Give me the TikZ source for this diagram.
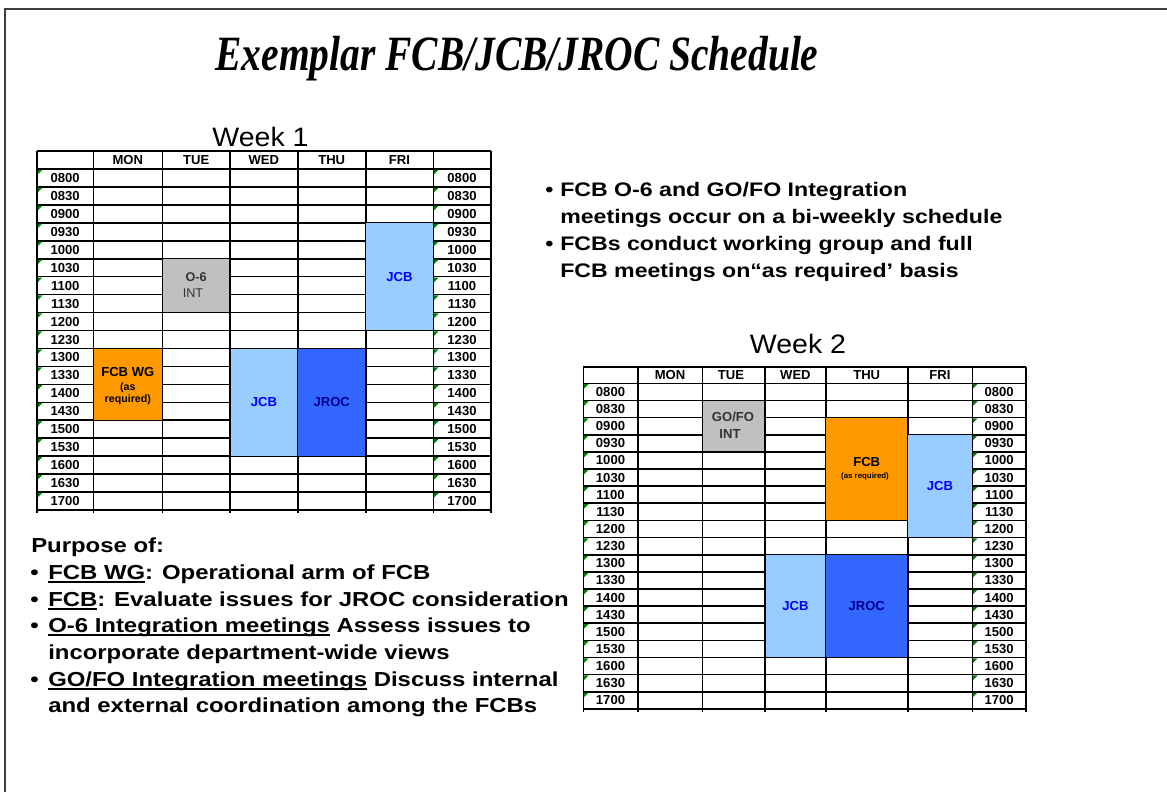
\documentclass[tikz,border=0pt]{standalone}
\usepackage{fontspec}
\setmainfont{Liberation Sans}
\newfontfamily\bodyfont[FakeStretch=1.18]{Liberation Sans}
\newfontfamily\weekfont[FakeStretch=1.07]{Liberation Sans}
\newfontfamily\titlefont[FakeStretch=0.8]{Liberation Serif}

\definecolor{jcbfill}{HTML}{99CCFF}
\definecolor{jrocfill}{HTML}{3366FF}
\definecolor{fcbfill}{HTML}{FF9900}
\definecolor{intfill}{HTML}{C0C0C0}
\definecolor{jcbtext}{HTML}{0000FF}
\definecolor{jroctext}{HTML}{000090}
\definecolor{inttext}{HTML}{333333}
\definecolor{notegreen}{HTML}{008000}
\definecolor{framegray}{HTML}{404040}

% underline with a heavier rule
\newcommand\uln[1]{\setbox0\hbox{#1}\rlap{\rule[-2.8pt]{\wd0}{1.4pt}}\box0\relax}

\tikzset{
  every node/.style={inner sep=0pt},
  gridline/.style={line width=1.2pt},
  cellfont/.style={font=\bfseries\fontsize{9.8}{11}\selectfont},
  meeting/.style={draw=black, line width=0.9pt},
  note/.style={fill=notegreen},
  weeklabel/.style={anchor=base, font=\weekfont\fontsize{20}{24}\selectfont},
  lefttext/.style={anchor=base west, font=\bodyfont\bfseries\fontsize{15.2}{18}\selectfont},
  righttext/.style={anchor=base west, font=\bodyfont\bfseries\fontsize{14.7}{18}\selectfont},
}

\begin{document}
\begin{tikzpicture}[x=0.75pt,y=-0.75pt]
\useasboundingbox (0,0) rectangle (1167,792);

% slide frame
\draw[framegray, line width=1.5pt] (5,792) -- (5,9) -- (1167,9);

\node[anchor=base, font=\titlefont\bfseries\itshape\fontsize{37}{40}\selectfont] (title) at (517,70) {Exemplar FCB/JCB/JROC Schedule};

% ---------------- Week 1 ----------------
\node[weeklabel] (weekone) at (260.5,146.7) {Week 1};
\foreach \i in {0,...,20}
  \draw[gridline] (37,{151+\i*17.95}) -- (490.7,{151+\i*17.95});
\foreach \x in {37,93.3,162.3,230,297.7,365.7,433.3,490.7}
  \draw[gridline] (\x,151) -- (\x,513);
\foreach \d/\x [count=\c] in {MON/127.8,TUE/196.2,WED/263.9,THU/331.7,FRI/399.5}
  \node[cellfont] (w1day\c) at (\x,160) {\d};
\foreach \t [count=\r] in {0800,0830,0900,0930,1000,1030,1100,1130,1200,1230,1300,1330,1400,1430,1500,1530,1600,1630,1700}
{
  \pgfmathsetmacro\yt{169+(\r-1)*17.95}
  \node[cellfont] (w1l\r) at (65.2,{\yt+9}) {\t};
  \node[cellfont] (w1r\r) at (462,{\yt+9}) {\t};
  \fill[note] (37.8,{\yt+0.8}) -- ++(4.5,0) -- ++(-4.5,4.5) -- cycle;
  \fill[note] (434.1,{\yt+0.8}) -- ++(4.5,0) -- ++(-4.5,4.5) -- cycle;
}

\draw[meeting, fill=intfill] (162.3,258.75) rectangle (230,312.6);
\node[font=\bfseries\fontsize{9.5}{11}\selectfont, text=inttext] (w1int) at (196.2,276.7) {O-6};
\node[font=\fontsize{9.5}{11}\selectfont, text=inttext] (w1intb) at (193,293) {INT};

\draw[meeting, fill=jcbfill] (365.7,222.85) rectangle (433.3,330.55);
\node[cellfont, text=jcbtext] (w1jcbfri) at (399.5,276.7) {JCB};

\draw[meeting, fill=fcbfill] (93.3,348.5) rectangle (162.3,420.3);
\node[cellfont] (w1fcbwg) at (127.8,371.7) {FCB WG};
\node[font=\bfseries\fontsize{8}{9}\selectfont] (w1fcbwgb) at (127.8,387.7) {(as};
\node[font=\bfseries\fontsize{8}{9}\selectfont] (w1fcbwgc) at (127.8,400) {required)};

\draw[meeting, fill=jcbfill] (230,348.5) rectangle (297.7,456.1);
\node[cellfont, text=jcbtext] (w1jcbwed) at (263.9,402.3) {JCB};
\draw[meeting, fill=jrocfill] (297.7,348.5) rectangle (365.7,456.1);
\node[cellfont, text=jroctext] (w1jroc) at (331.7,402.3) {JROC};

% ---------------- Week 2 ----------------
\node[weeklabel] (weektwo) at (798,353) {Week 2};
\draw[gridline] (583.3,366.7) -- (1026,366.7);
\foreach \i in {0,...,19}
  \draw[gridline] (583.3,{383.3+\i*17.14}) -- (1026,{383.3+\i*17.14});
\foreach \x in {583.3,637.7,702.3,765,825.7,907.7,972.3,1026}
  \draw[gridline] (\x,366.7) -- (\x,712);
\foreach \d/\x [count=\c] in {MON/670,TUE/731,WED/795.4,THU/866.7,FRI/940}
  \node[cellfont] (w2day\c) at (\x,375) {\d};
\foreach \t [count=\r] in {0800,0830,0900,0930,1000,1030,1100,1130,1200,1230,1300,1330,1400,1430,1500,1530,1600,1630,1700}
{
  \pgfmathsetmacro\yt{383.3+(\r-1)*17.14}
  \node[cellfont] (w2l\r) at (610.5,{\yt+8.6}) {\t};
  \node[cellfont] (w2r\r) at (999.2,{\yt+8.6}) {\t};
  \fill[note] (584.1,{\yt+0.8}) -- ++(4.5,0) -- ++(-4.5,4.5) -- cycle;
  \fill[note] (973.1,{\yt+0.8}) -- ++(4.5,0) -- ++(-4.5,4.5) -- cycle;
}

\draw[meeting, fill=intfill] (702.3,400.44) rectangle (765,451.86);
\node[cellfont, text=inttext] (w2int) at (733,417) {GO/FO};
\node[cellfont, text=inttext] (w2intb) at (730,434) {INT};

\draw[meeting, fill=fcbfill] (825.7,417.58) rectangle (907.7,520.42);
\node[cellfont] (w2fcb) at (866.7,462) {FCB};
\node[font=\bfseries\fontsize{5.9}{7}\selectfont] (w2fcbb) at (865,476) {(as required)};

\draw[meeting, fill=jcbfill] (907.7,434.72) rectangle (972.3,537.56);
\node[cellfont, text=jcbtext] (w2jcbfri) at (940,485.5) {JCB};

\draw[meeting, fill=jcbfill] (765,554.7) rectangle (825.7,657.54);
\node[cellfont, text=jcbtext] (w2jcbwed) at (795.4,606) {JCB};
\draw[meeting, fill=jrocfill] (825.7,554.7) rectangle (907.7,657.54);
\node[cellfont, text=jroctext] (w2jroc) at (866.7,606) {JROC};

% ---------------- notes ----------------
\node[righttext] (dota) at (545,196) {\textbullet};
\node[righttext] (facta) at (560,196) {FCB O-6 and GO/FO Integration};
\node[righttext] (factb) at (560,223) {meetings occur on a bi-weekly schedule};
\node[righttext] (dotb) at (545,250) {\textbullet};
\node[righttext] (factc) at (560,250) {FCBs conduct working group and full};
\node[righttext] (factd) at (560,277) {FCB meetings on“as required’ basis};

\node[lefttext] (purpose) at (31,552) {Purpose of:};
\node[lefttext] (dotc) at (30,579.5) {\textbullet};
\node[lefttext] (purpa) at (48,579.5) {\uln{FCB WG}: Operational arm of FCB};
\node[lefttext] (dotd) at (30,606) {\textbullet};
\node[lefttext] (purpb) at (48,606) {\uln{FCB}: Evaluate issues for JROC consideration};
\node[lefttext] (dote) at (30,632.5) {\textbullet};
\node[lefttext] (purpc) at (48,632.5) {\uln{O-6 Integration meetings} Assess issues to};
\node[lefttext] (purpd) at (48,659) {incorporate department-wide views};
\node[lefttext] (dotf) at (30,686) {\textbullet};
\node[lefttext] (purpe) at (48,686) {\uln{GO/FO Integration meetings} Discuss internal};
\node[lefttext] (purpf) at (48,712.5) {and external coordination among the FCBs};
\end{tikzpicture}
\end{document}
